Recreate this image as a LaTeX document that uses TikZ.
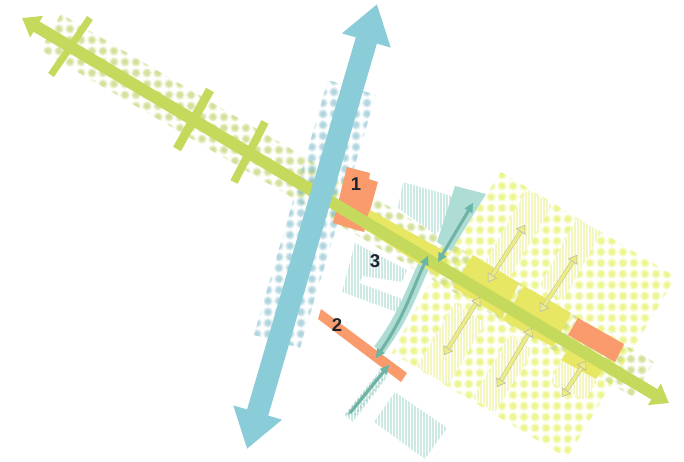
\documentclass[tikz,border=0pt]{standalone}
\usepackage{xcolor}
\usepackage{fontspec}
\setmainfont{Liberation Sans}
\usetikzlibrary{arrows.meta, calc}

\definecolor{axisgreen}{HTML}{C5DA5D}
\definecolor{axisblue}{HTML}{8ACCD8}
\definecolor{plotorange}{HTML}{F99B6C}
\definecolor{bandyellow}{HTML}{E8E763}
\definecolor{dotyellow}{HTML}{E0EE40}
\definecolor{dotgreen}{HTML}{B4CC55}
\definecolor{dotblue}{HTML}{79B8C8}
\definecolor{hatchyellow}{HTML}{F3F6BE}
\definecolor{hatchteal}{HTML}{CDE9E3}
\definecolor{wedgeteal}{HTML}{AEDDD6}
\definecolor{arrowteal}{HTML}{69B5A6}
\definecolor{labelink}{HTML}{1B2430}

% #1 colour, #2 #3 first dot, #4 #5 columns and rows, #6 clip path
\newcommand{\dotfield}[6]{
	\begin{scope}
		\clip #6;
		\foreach \i in {0,...,#4} {
			\fill[#1, opacity=.15] \foreach \j in {0,...,#5} {(#2+\i*11, #3+\j*11) circle (5.2pt)};
			\fill[#1, opacity=.25] \foreach \j in {0,...,#5} {(#2+\i*11, #3+\j*11) circle (4pt)};
			\fill[#1, opacity=.35] \foreach \j in {0,...,#5} {(#2+\i*11, #3+\j*11) circle (2.8pt)};
		}
	\end{scope}
}
% #1 colour, #2 #3 top left, #4 number of lines, #5 height, #6 clip path
\newcommand{\hatchfield}[6]{
	\begin{scope}
		\clip #6;
		\fill[white] (#2,#3) rectangle ++(#4*3, #5);
		\draw[#1, line width=1.4pt] \foreach \i in {0,...,#4} {(#2+\i*3, #3) -- ++(0, #5)};
	\end{scope}
}

\begin{document}
\begin{tikzpicture}[x=1pt, y=-1pt,
	greenaxis/.style={axisgreen, line width=12pt, {Triangle[length=17pt, width=24pt]}-{Triangle[length=17pt, width=24pt]}},
	blueaxis/.style={axisblue, line width=22pt, {Triangle[length=38pt, width=48pt]}-{Triangle[length=38pt, width=48pt]}},
	crossbar/.style={axisgreen, line width=8pt},
	yellowarrow/.style={draw=black!30, line width=.4pt, double=bandyellow!80!white, double distance=3.4pt,
		{Triangle[length=8pt, width=11pt, color=black!30, fill=bandyellow!80!white, line width=.5pt]}-{Triangle[length=8pt, width=11pt, color=black!30, fill=bandyellow!80!white, line width=.5pt]}},
	tealarrow/.style={draw=black!25, line width=.3pt, double=arrowteal, double distance=2.8pt,
		{Triangle[length=9pt, width=9pt, color=arrowteal, fill=arrowteal]}-{Triangle[length=9pt, width=9pt, color=arrowteal, fill=arrowteal]}},
	plotlabel/.style={font=\bfseries\fontsize{18.5}{18.5}\selectfont, text=labelink, inner sep=0pt},
	]
	\useasboundingbox (0,0) rectangle (684,461);

	\coordinate (greenW) at (22,18);
	\coordinate (greenE) at (669,403);
	\coordinate (blueN) at (377,4);
	\coordinate (blueS) at (247,449);

	% dotted fields
	\dotfield{dotgreen}{48}{18}{55}{35}{(61,14) -- (654,362) -- (633,397) -- (40,50) -- cycle}
	\dotfield{dotblue}{257}{81}{11}{25}{(328,80) -- (376,95) -- (300,348) -- (254,335) -- cycle}
	\dotfield{dotyellow}{392}{175}{26}{26}{(501,172) -- (676,277) -- (567,458) -- (392,353) -- (437,270) -- cycle}

	% hatched fields
	\hatchfield{hatchyellow}{484}{190}{23}{90}{(527,190) -- (552,205) -- (510,277) -- (485,262) -- cycle}
	\hatchfield{hatchyellow}{539}{218}{21}{85}{(577,218) -- (601,233) -- (563,300) -- (540,285) -- cycle}
	\hatchfield{hatchyellow}{416}{303}{23}{85}{(417,367) -- (448,385) -- (485,323) -- (455,303) -- cycle}
	\hatchfield{hatchyellow}{472}{333}{21}{82}{(473,398) -- (495,412) -- (533,350) -- (510,335) -- cycle}
	\hatchfield{hatchyellow}{550}{360}{16}{42}{(563,360) -- (597,381) -- (585,400) -- (550,382) -- cycle}
	\hatchfield{hatchteal}{396}{180}{20}{58}{(403,182) -- (452,196) -- (450,232) -- (440,228) -- (436,235) -- (398,208) -- cycle}
	\hatchfield{hatchteal}{340}{242}{23}{74}{(355,243) -- (407,270) -- (402,282) -- (363,276) -- (359,283) -- (405,300) -- (402,314) -- (342,292) -- cycle}
	\hatchfield{hatchteal}{373}{390}{25}{70}{(395,392) -- (447,428) -- (425,459) -- (374,422) -- cycle}
	\hatchfield{hatchteal}{343}{368}{16}{56}{(380,370) -- (388,376) -- (353,422) -- (344,415) -- cycle}
	\foreach \t in {.05,.13,...,.9} {
		\fill[arrowteal, opacity=.5] ($(349,417)!\t!(383,374)$) ++(-2.5,-1) circle (1.7pt);
		\fill[arrowteal, opacity=.35] ($(349,417)!\t+.05!(383,374)$) ++(3,1.5) circle (1.5pt);
	}

	% teal wedge and bent corridor
	\fill[wedgeteal] (455,186) -- (486,194) -- (451,251) -- (437,242) -- cycle;
	\coordinate (bendN) at (428,256);
	\coordinate (bendS) at (376,358);
	\draw[wedgeteal, line width=12pt] (425,263) .. controls (412,290) and (405,315) .. (379,350);

	% plots and yellow blocks
	\fill[plotorange] (347,167) -- (370,173) -- (369,179) -- (378,182) -- (364,232) -- (333,223) -- cycle;
	\fill[plotorange] (578,318) -- (624,344) -- (615,362) -- (568,335) -- cycle;
	\fill[plotorange] (321,309) -- (407,373) -- (401,382) -- (318,319) -- cycle;
	\fill[bandyellow] (370,210) -- (448,253) -- (438,276) -- (363,228) -- cycle;
	\fill[bandyellow] (473,255) -- (519,283) -- (502,318) -- (453,287) -- cycle;
	\fill[bandyellow] (524,286) -- (571,313) -- (553,347) -- (503,320) -- cycle;
	\fill[bandyellow] (572,345) -- (606,365) -- (596,379) -- (561,360) -- cycle;

	% axes
	\draw[greenaxis] (greenW) -- (greenE);
	\draw[crossbar, line width=7pt] (90,18) -- (51,75);
	\draw[crossbar, line width=9pt] (210,90) -- (177,149);
	\draw[crossbar] (265,122) -- (234,182);
	\draw[blueaxis] (blueN) -- (blueS);

	% arrows
	\foreach \a/\b/\c/\d in {525/225/488/282, 577/255/540/312, 480/297/444/355, 532/328/497/387, 586/361/562/397} {
		\coordinate (yellowN) at (\a,\b);
		\coordinate (yellowS) at (\c,\d);
		\draw[yellowarrow] (yellowN) -- (yellowS);
	}
	\coordinate (wedgeN) at (473,203);
	\coordinate (wedgeS) at (438,262);
	\draw[tealarrow] (wedgeN) -- (wedgeS);
	\draw[tealarrow] (bendN) .. controls (412,290) and (405,315) .. (bendS);
	\coordinate (stripN) at (389,365);
	\coordinate (stripS) at (350,413);
	\draw[tealarrow, -{Triangle[length=9pt, width=9pt, color=arrowteal, fill=arrowteal]}] (stripS) -- (stripN);

	\node[plotlabel] (label1) at (356,184) {1};
	\node[plotlabel] (label2) at (337,325) {2};
	\node[plotlabel] (label3) at (375,261) {3};
\end{tikzpicture}
\end{document}
